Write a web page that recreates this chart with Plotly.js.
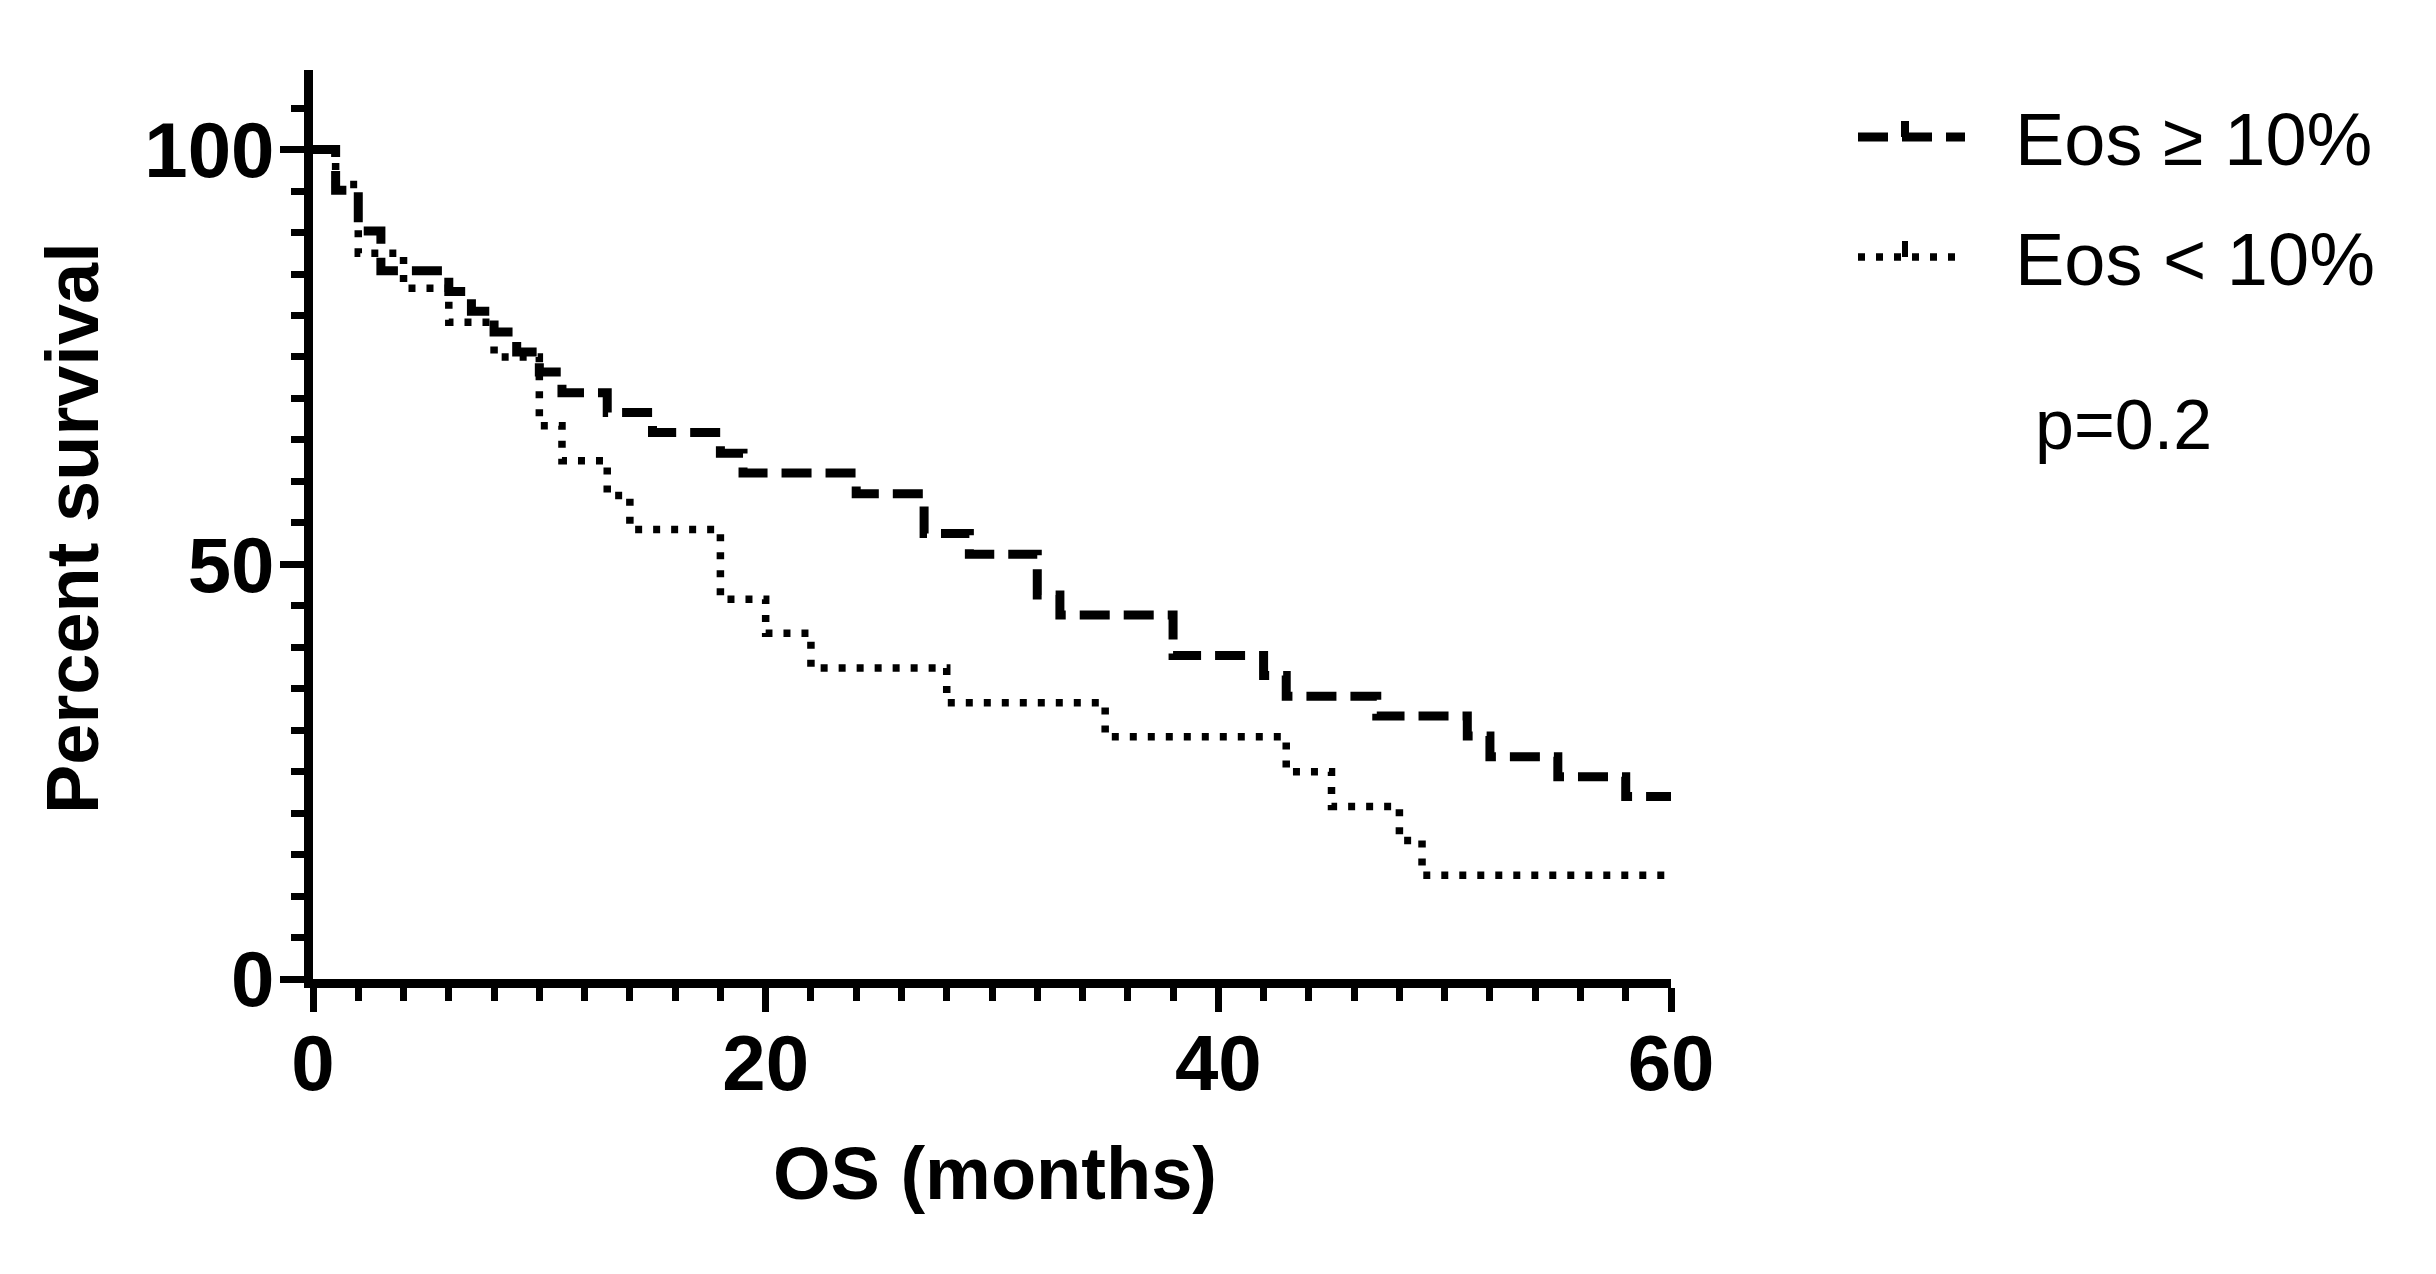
<!DOCTYPE html>
<html>
<head>
<meta charset="utf-8">
<script src="https://cdn.plot.ly/plotly-3.0.1.min.js"></script>
<style>html,body{margin:0;padding:0;background:#fff;}#chart{width:2436px;height:1274px;}</style>
</head>
<body>
<div id="chart"></div>
<script>
// Kaplan-Meier steps (months, percent survival)
const eosHighMonths = [0, 1, 2, 3, 6, 7, 8, 9, 10, 11, 13, 15, 18, 19, 24, 27, 29, 32, 33, 38, 42, 43, 47, 51, 52, 55, 58, 60];
const eosHighSurv   = [100, 95.1, 90.2, 85.4, 82.9, 80.5, 78.0, 75.6, 73.2, 70.7, 68.3, 65.9, 63.4, 61.0, 58.5, 53.7, 51.2, 46.3, 43.9, 39.0, 36.6, 34.1, 31.7, 29.3, 26.8, 24.4, 22.0, 22.0];

const eosLowMonths = [0, 1, 2, 4, 6, 8, 10, 11, 13, 14, 18, 20, 22, 28, 35, 43, 45, 48, 49, 60];
const eosLowSurv   = [100, 95.8, 87.5, 83.3, 79.2, 75.0, 66.7, 62.5, 58.3, 54.2, 45.8, 41.7, 37.5, 33.3, 29.2, 25.0, 20.8, 16.7, 12.5, 12.5];

const seriesNames = ['Eos \u2265 10%', 'Eos < 10%'];
const xTickVals = [0, 20, 40, 60];
const yTickVals = [0, 50, 100];
const xTitle = 'OS (months)';
const yTitle = 'Percent survival';
const pValueText = 'p=0.2';

const W = 2436, H = 1274;
const M = {l: 313, r: 765, t: 70, b: 295};
const PW = W - M.l - M.r, PH = H - M.t - M.b;
const px = v => (v - M.l) / PW;        // page px -> paper x
const py = v => (H - M.b - v) / PH;    // page px -> paper y

const boldFont = {family: 'Liberation Sans, Arial, sans-serif', color: '#000', weight: 'bold'};
const plainFont = {family: 'Liberation Sans, Arial, sans-serif', color: '#000'};

const styles = [
  {color: '#000', width: 9, dash: '30px,14px'},
  {color: '#000', width: 7.5, dash: '7px,11px'}
];

const traces = [
  {x: eosHighMonths, y: eosHighSurv, name: seriesNames[0], type: 'scatter', mode: 'lines',
   line: Object.assign({shape: 'hv'}, styles[0]), hoverinfo: 'skip', showlegend: false},
  {x: eosLowMonths, y: eosLowSurv, name: seriesNames[1], type: 'scatter', mode: 'lines',
   line: Object.assign({shape: 'hv'}, styles[1]), hoverinfo: 'skip', showlegend: false}
];

// legend drawn as decoration: sample line with a small censor tick + text
const legendRows = [137, 257];
const shapes = [];
const annotations = [];
legendRows.forEach((rowY, i) => {
  shapes.push({type: 'line', xref: 'paper', yref: 'paper',
    x0: px(1858), x1: px(1965), y0: py(rowY), y1: py(rowY),
    line: {color: '#000', width: styles[i].width, dash: styles[i].dash}});
  shapes.push({type: 'line', xref: 'paper', yref: 'paper',
    x0: px(1905), x1: px(1905), y0: py(rowY), y1: py(rowY - 16),
    line: {color: '#000', width: i === 0 ? 8 : 6}});
  annotations.push({xref: 'paper', yref: 'paper', x: px(2013), y: py(rowY + 2),
    xanchor: 'left', yanchor: 'middle', text: seriesNames[i], showarrow: false,
    font: Object.assign({}, plainFont, {size: 74})});
});
annotations.push({xref: 'paper', yref: 'paper', x: px(2123), y: 0.609, xanchor: 'center', yanchor: 'middle',
  text: pValueText, showarrow: false, font: Object.assign({}, plainFont, {size: 70})});
annotations.push({xref: 'paper', yref: 'paper', x: px(995), y: py(1173), xanchor: 'center', yanchor: 'middle',
  text: xTitle, showarrow: false, font: Object.assign({}, boldFont, {size: 74})});
annotations.push({xref: 'paper', yref: 'paper', x: px(72), y: py(528), xanchor: 'center', yanchor: 'middle',
  text: yTitle, textangle: -90, showarrow: false, font: Object.assign({}, boldFont, {size: 74})});

const layout = {
  width: W, height: H,
  paper_bgcolor: '#fff', plot_bgcolor: '#fff',
  margin: Object.assign({pad: 0}, M),
  showlegend: false,
  xaxis: {
    range: [0, 60], tickvals: xTickVals, ticktext: xTickVals.map(String),
    showline: true, linecolor: '#000', linewidth: 9,
    ticks: 'outside', ticklen: 24, tickwidth: 7, tickcolor: '#000',
    minor: {dtick: 2, tick0: 0, ticks: 'outside', ticklen: 13, tickwidth: 7, tickcolor: '#000', showgrid: false},
    showgrid: false, zeroline: false, ticklabelstandoff: -16,
    tickfont: Object.assign({}, boldFont, {size: 78}),
    fixedrange: true
  },
  yaxis: {
    range: [0, 109.6], tickvals: yTickVals, ticktext: yTickVals.map(String),
    showline: true, linecolor: '#000', linewidth: 9,
    ticks: 'outside', ticklen: 24, tickwidth: 7, tickcolor: '#000',
    minor: {dtick: 5, tick0: 0, ticks: 'outside', ticklen: 13, tickwidth: 7, tickcolor: '#000', showgrid: false},
    showgrid: false, zeroline: false, ticklabelstandoff: -10,
    tickfont: Object.assign({}, boldFont, {size: 78}),
    fixedrange: true
  },
  shapes: shapes,
  annotations: annotations
};

Plotly.newPlot('chart', traces, layout, {displayModeBar: false, staticPlot: true});
</script>
</body>
</html>
